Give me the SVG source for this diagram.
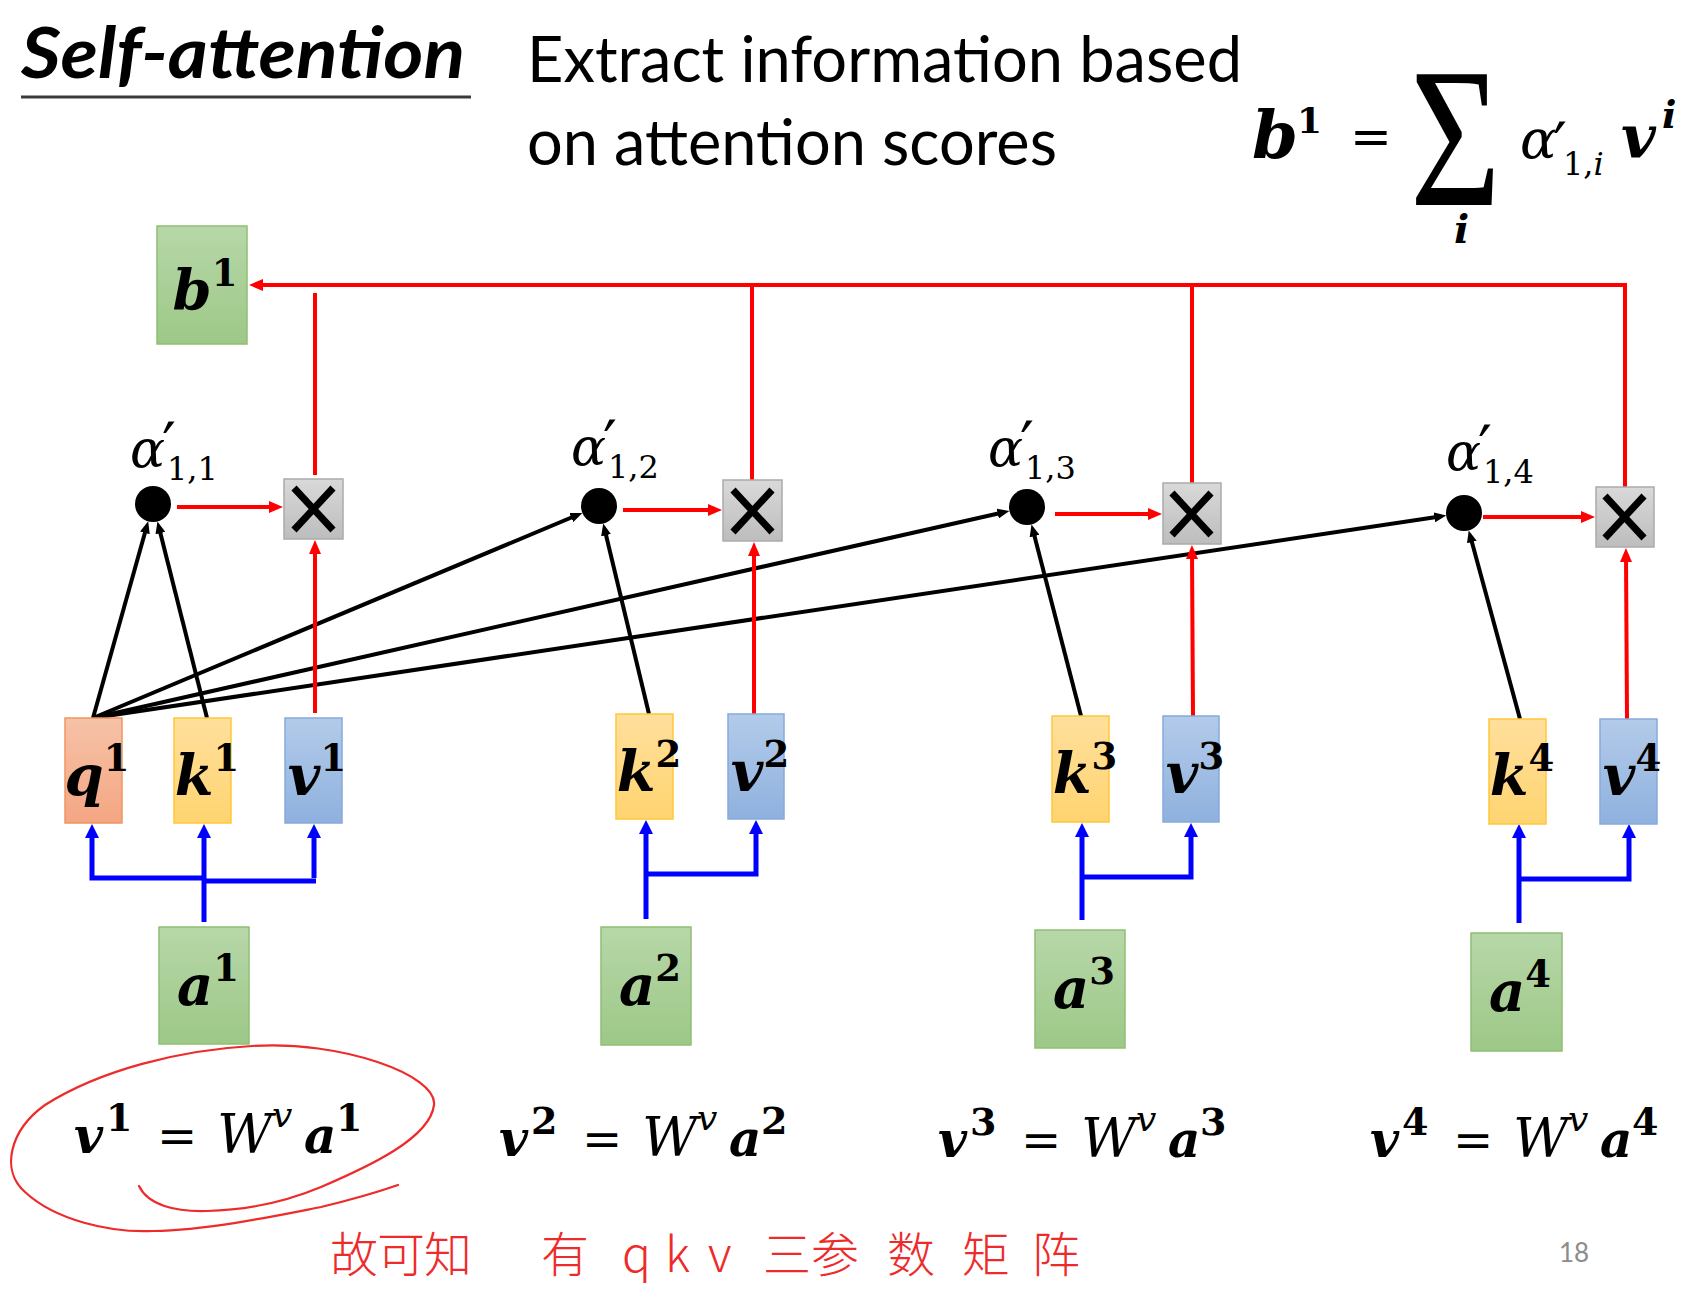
<svg xmlns="http://www.w3.org/2000/svg" width="1696" height="1310" viewBox="0 0 1696 1310">
<defs>
<linearGradient id="gG" x1="0" y1="0" x2="0" y2="1"><stop offset="0" stop-color="#b7d7a8"/><stop offset="1" stop-color="#9dc887"/></linearGradient>
<linearGradient id="gO" x1="0" y1="0" x2="0" y2="1"><stop offset="0" stop-color="#f6c2a8"/><stop offset="1" stop-color="#f4a682"/></linearGradient>
<linearGradient id="gY" x1="0" y1="0" x2="0" y2="1"><stop offset="0" stop-color="#ffdf9c"/><stop offset="1" stop-color="#ffd470"/></linearGradient>
<linearGradient id="gB" x1="0" y1="0" x2="0" y2="1"><stop offset="0" stop-color="#b3cbea"/><stop offset="1" stop-color="#8fb1de"/></linearGradient>
<linearGradient id="gX" x1="0" y1="0" x2="0" y2="1"><stop offset="0" stop-color="#d9d9d9"/><stop offset="1" stop-color="#bdbdbd"/></linearGradient>
<marker id="mK" viewBox="0 0 12 10" refX="4" refY="5" markerWidth="12" markerHeight="10" markerUnits="userSpaceOnUse" orient="auto"><path d="M0,0L12,5L0,10z" fill="#000"/></marker>
<marker id="mR" viewBox="0 0 14 12" refX="6" refY="6" markerWidth="14" markerHeight="12" markerUnits="userSpaceOnUse" orient="auto"><path d="M0,0L14,6L0,12z" fill="#ff0000"/></marker>
<marker id="mB" viewBox="0 0 14 14" refX="6" refY="7" markerWidth="14" markerHeight="14" markerUnits="userSpaceOnUse" orient="auto"><path d="M0,0L14,7L0,14z" fill="#0000ff"/></marker>
</defs>
<style>
.bg{fill:#fff}
.gr{fill:url(#gG);stroke:#8fbf73;stroke-width:1.5}
.or{fill:url(#gO);stroke:#f2955f;stroke-width:1.5}
.ye{fill:url(#gY);stroke:#ffc83a;stroke-width:1.5}
.bl{fill:url(#gB);stroke:#86aadb;stroke-width:1.5}
.xb{fill:url(#gX);stroke:#ababab;stroke-width:1.5}
.xs{stroke:#000;stroke-width:7;fill:none}
.dot{fill:#000}
.k{stroke:#000;stroke-width:4;fill:none;marker-end:url(#mK)}
.r{stroke:#ff0000;stroke-width:4;fill:none}
.ra{stroke:#ff0000;stroke-width:4;fill:none;marker-end:url(#mR)}
.b{stroke:#0000ff;stroke-width:5;fill:none}
.ba{stroke:#0000ff;stroke-width:5;fill:none;marker-end:url(#mB)}
.lbl{font-family:"DejaVu Serif",serif;font-weight:bold;font-style:italic;font-size:56px;fill:#000}
.sup{font-style:normal;font-size:37px}
.al{font-family:"DejaVu Serif",serif;font-style:italic;font-size:52px;fill:#000}
.pr{font-style:normal;font-size:62px}
.sb{font-style:normal;font-size:32px}
.fm{font-family:"DejaVu Serif",serif;fill:#000}
.bi{font-weight:bold;font-style:italic;font-size:50px}
.eq{font-size:48px}
.it{font-style:italic;font-size:54px}
.sd{font-weight:bold;font-size:38px}
.sv{font-style:italic;font-size:36px}
.sans{font-family:Lato,"Liberation Sans",sans-serif;fill:#000}
.hand{font-family:"Noto Sans CJK SC",sans-serif;font-size:48px;font-weight:300;fill:#ee2b2b}
.ink{stroke:#ee2b2b;stroke-width:2.2;fill:none;stroke-linecap:round}
</style>
<rect class="bg" x="0" y="0" width="1696" height="1310"/>

<g id="title">
<text class="sans" x="21" y="78" style="font-size:70px;font-weight:bold;font-style:italic" textLength="444" lengthAdjust="spacingAndGlyphs">Self-attention</text>
<line x1="21" y1="97" x2="471" y2="97" stroke="#3a3a3a" stroke-width="3"/>
</g>
<g id="subtitle">
<text class="sans" x="527" y="82" style="font-size:63px" textLength="715" lengthAdjust="spacingAndGlyphs">Extract information based</text>
<text class="sans" x="527" y="165" style="font-size:63px" textLength="530" lengthAdjust="spacingAndGlyphs">on attention scores</text>
</g>
<g id="formula-b1">
<text class="fm" y="158"><tspan x="1252" style="font-size:66px;font-weight:bold;font-style:italic">b</tspan><tspan x="1297" y="133" style="font-size:36px;font-weight:bold">1</tspan><tspan x="1350" y="154" style="font-size:50px">=</tspan></text>
<text class="fm" transform="translate(1410,205) scale(0.78,1)" style="font-family:'Liberation Serif',serif;font-size:200px">Σ</text>
<text class="fm" x="1454" y="243" style="font-size:40px;font-weight:bold;font-style:italic">i</text>
<text class="fm" y="158"><tspan x="1520" style="font-size:54px;font-style:italic">α</tspan><tspan x="1553" y="167" style="font-size:62px">′</tspan><tspan x="1563" y="175" style="font-size:32px">1,</tspan><tspan style="font-size:32px;font-style:italic">i</tspan><tspan x="1621" y="158" style="font-size:60px;font-weight:bold;font-style:italic">v</tspan><tspan x="1662" y="128" style="font-size:38px;font-weight:bold;font-style:italic">i</tspan></text>
</g>

<g id="connectors">
<line class="ba" x1="204" y1="922" x2="204" y2="832"/>
<path class="ba" d="M204,878 L92,878 L92,832"/>
<line class="b" x1="206" y1="881" x2="316" y2="881"/>
<line class="ba" x1="314" y1="878" x2="314" y2="832"/>
<line class="ba" x1="646" y1="919" x2="646" y2="828"/>
<path class="ba" d="M646,874 L756,874 L756,828"/>
<line class="ba" x1="1082" y1="920" x2="1082" y2="831"/>
<path class="ba" d="M1082,877 L1191,877 L1191,831"/>
<line class="ba" x1="1519" y1="923" x2="1519" y2="832"/>
<path class="ba" d="M1519,879 L1629,879 L1629,832"/>
<line class="k" x1="93" y1="718" x2="146.0" y2="529.0"/>
<line class="k" x1="207" y1="718" x2="159.4" y2="529.2"/>
<line class="k" x1="93" y1="718" x2="575.0" y2="516.0"/>
<line class="k" x1="649" y1="714" x2="605.1" y2="531.3"/>
<line class="k" x1="93" y1="718" x2="1001.6" y2="512.7"/>
<line class="k" x1="1081" y1="716" x2="1033.5" y2="532.2"/>
<line class="k" x1="93" y1="718" x2="1438.3" y2="516.8"/>
<line class="k" x1="1520" y1="719" x2="1470.8" y2="538.1"/>
<line class="ra" x1="177" y1="507" x2="275" y2="507"/>
<line class="ra" x1="315" y1="713" x2="315" y2="548"/>
<line class="r" x1="315" y1="475" x2="315" y2="293"/>
<line class="ra" x1="623" y1="510" x2="714" y2="510"/>
<line class="ra" x1="754" y1="714" x2="754" y2="550"/>
<line class="r" x1="752" y1="480" x2="752" y2="285"/>
<line class="ra" x1="1055" y1="514" x2="1154" y2="514"/>
<line class="ra" x1="1193" y1="716" x2="1192" y2="553"/>
<line class="r" x1="1192" y1="483" x2="1192" y2="283"/>
<line class="ra" x1="1483" y1="517" x2="1587" y2="517"/>
<line class="ra" x1="1627" y1="719" x2="1626" y2="556"/>
<path class="ra" d="M1625,487 L1625,285 L257,285"/>
</g>

<g id="b1"><rect class="gr" x="157" y="226" width="90" height="118"/><text class="lbl" x="205" y="310" text-anchor="middle">b<tspan class="sup" dy="-24">1</tspan></text></g>

<g id="alpha11"><circle class="dot" cx="153" cy="504" r="18"/><text class="al" x="130" y="467">α<tspan class="pr" x="162" y="467">′</tspan><tspan class="sb" x="167" y="480">1,1</tspan></text></g>
<g id="alpha12"><circle class="dot" cx="599" cy="506" r="18"/><text class="al" x="571" y="465">α<tspan class="pr" x="603" y="465">′</tspan><tspan class="sb" x="608" y="478">1,2</tspan></text></g>
<g id="alpha13"><circle class="dot" cx="1027" cy="507" r="18"/><text class="al" x="988" y="466">α<tspan class="pr" x="1020" y="466">′</tspan><tspan class="sb" x="1025" y="479">1,3</tspan></text></g>
<g id="alpha14"><circle class="dot" cx="1464" cy="513" r="18"/><text class="al" x="1446" y="470">α<tspan class="pr" x="1478" y="470">′</tspan><tspan class="sb" x="1483" y="483">1,4</tspan></text></g>

<g id="mul1"><rect class="xb" x="284" y="479" width="59" height="60"/><path class="xs" d="M294,488 L333,530 M333,488 L294,530"/></g>
<g id="mul2"><rect class="xb" x="723" y="480" width="59" height="61"/><path class="xs" d="M733,490 L772,532 M772,490 L733,532"/></g>
<g id="mul3"><rect class="xb" x="1163" y="483" width="58" height="61"/><path class="xs" d="M1172,493 L1211,535 M1211,493 L1172,535"/></g>
<g id="mul4"><rect class="xb" x="1596" y="487" width="58" height="60"/><path class="xs" d="M1605,496 L1644,538 M1644,496 L1605,538"/></g>

<g id="q1"><rect class="or" x="65" y="718" width="57" height="105"/><text class="lbl" x="97" y="795" text-anchor="middle">q<tspan class="sup" dy="-24">1</tspan></text></g>
<g id="k1"><rect class="ye" x="174" y="718" width="57" height="105"/><text class="lbl" x="207" y="795" text-anchor="middle">k<tspan class="sup" dy="-24">1</tspan></text></g>
<g id="v1"><rect class="bl" x="285" y="718" width="57" height="105"/><text class="lbl" x="317" y="795" text-anchor="middle">v<tspan class="sup" dy="-24">1</tspan></text></g>
<g id="k2"><rect class="ye" x="616" y="714" width="57" height="105"/><text class="lbl" x="649" y="791" text-anchor="middle">k<tspan class="sup" dy="-24">2</tspan></text></g>
<g id="v2"><rect class="bl" x="728" y="714" width="56" height="105"/><text class="lbl" x="760" y="791" text-anchor="middle">v<tspan class="sup" dy="-24">2</tspan></text></g>
<g id="k3"><rect class="ye" x="1052" y="716" width="57" height="106"/><text class="lbl" x="1085" y="793" text-anchor="middle">k<tspan class="sup" dy="-24">3</tspan></text></g>
<g id="v3"><rect class="bl" x="1163" y="716" width="56" height="106"/><text class="lbl" x="1195" y="793" text-anchor="middle">v<tspan class="sup" dy="-24">3</tspan></text></g>
<g id="k4"><rect class="ye" x="1489" y="719" width="57" height="105"/><text class="lbl" x="1522" y="795" text-anchor="middle">k<tspan class="sup" dy="-24">4</tspan></text></g>
<g id="v4"><rect class="bl" x="1600" y="719" width="57" height="105"/><text class="lbl" x="1632" y="795" text-anchor="middle">v<tspan class="sup" dy="-24">4</tspan></text></g>

<g id="a1"><rect class="gr" x="159" y="927" width="90" height="117"/><text class="lbl" x="208" y="1005" text-anchor="middle">a<tspan class="sup" dy="-24">1</tspan></text></g>
<g id="a2"><rect class="gr" x="601" y="927" width="90" height="118"/><text class="lbl" x="650" y="1005" text-anchor="middle">a<tspan class="sup" dy="-24">2</tspan></text></g>
<g id="a3"><rect class="gr" x="1035" y="930" width="90" height="118"/><text class="lbl" x="1084" y="1008" text-anchor="middle">a<tspan class="sup" dy="-24">3</tspan></text></g>
<g id="a4"><rect class="gr" x="1471" y="933" width="91" height="118"/><text class="lbl" x="1520" y="1011" text-anchor="middle">a<tspan class="sup" dy="-24">4</tspan></text></g>

<g id="eq1"><text class="fm" y="1153"><tspan class="bi" x="74">v</tspan><tspan class="sd" x="106" y="1131">1</tspan><tspan class="eq" x="157" y="1153">=</tspan><tspan class="it" x="217">W</tspan><tspan class="sv" x="272" y="1127">v</tspan><tspan class="bi" x="304" y="1153">a</tspan><tspan class="sd" x="336" y="1131">1</tspan></text></g>
<g id="eq2"><text class="fm" y="1156"><tspan class="bi" x="499">v</tspan><tspan class="sd" x="531" y="1134">2</tspan><tspan class="eq" x="582" y="1156">=</tspan><tspan class="it" x="642">W</tspan><tspan class="sv" x="697" y="1130">v</tspan><tspan class="bi" x="729" y="1156">a</tspan><tspan class="sd" x="761" y="1134">2</tspan></text></g>
<g id="eq3"><text class="fm" y="1157"><tspan class="bi" x="938">v</tspan><tspan class="sd" x="970" y="1135">3</tspan><tspan class="eq" x="1021" y="1157">=</tspan><tspan class="it" x="1081">W</tspan><tspan class="sv" x="1136" y="1131">v</tspan><tspan class="bi" x="1168" y="1157">a</tspan><tspan class="sd" x="1200" y="1135">3</tspan></text></g>
<g id="eq4"><text class="fm" y="1157"><tspan class="bi" x="1370">v</tspan><tspan class="sd" x="1402" y="1135">4</tspan><tspan class="eq" x="1453" y="1157">=</tspan><tspan class="it" x="1513">W</tspan><tspan class="sv" x="1568" y="1131">v</tspan><tspan class="bi" x="1600" y="1157">a</tspan><tspan class="sd" x="1632" y="1135">4</tspan></text></g>

<g id="annotation">
<path class="ink" d="M139,1186 C148,1205 175,1212 207,1211 C250,1210 290,1200 321,1187 C370,1166 430,1138 434,1105 C438,1075 340,1040 252,1046 C180,1050 100,1070 45,1105 C10,1130 0,1170 25,1192 C55,1220 110,1233 153,1231 C210,1230 280,1215 321,1207 C350,1200 375,1193 398,1185"/>
<text class="hand" x="330 377 424 541 622 665 708 763 811 887 962 1032" y="1272">故可知有qkv三参数矩阵</text>
</g>

<text id="pagenum" class="sans" x="1559" y="1262" style="font-size:26px;fill:#8c8c8c">18</text>
</svg>
